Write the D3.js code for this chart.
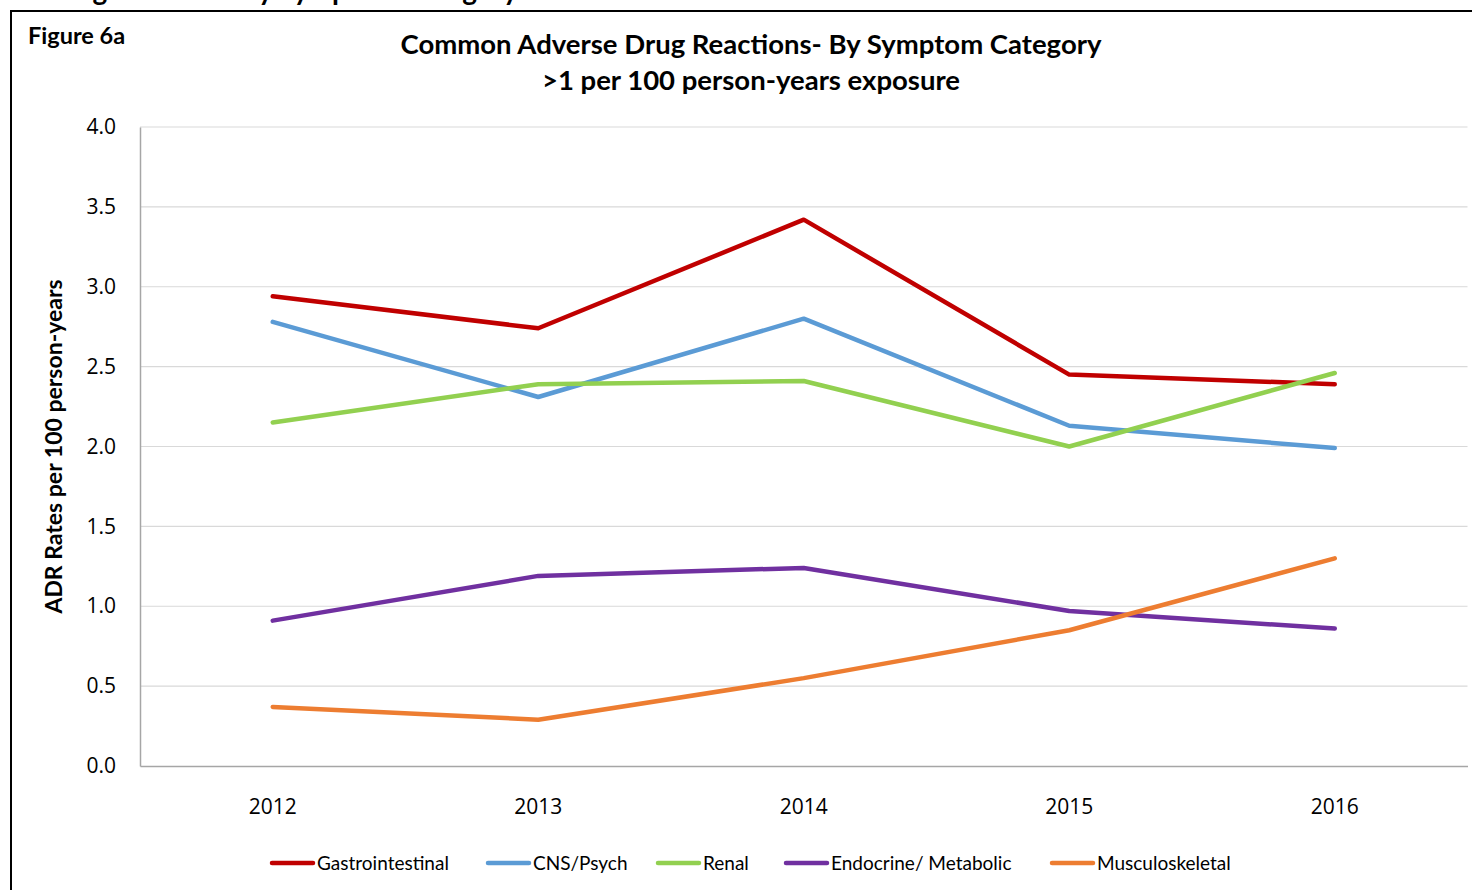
<!DOCTYPE html>
<html>
<head>
<meta charset="utf-8">
<script src="https://cdn.jsdelivr.net/npm/d3@7"></script>
<style>
  html, body { margin: 0; padding: 0; background: #fff; }
  svg { display: block; }
</style>
</head>
<body>
<svg id="chart" width="1472" height="890"></svg>
<script>
// ---- data ----
const years = ["2012", "2013", "2014", "2015", "2016"];
const seriesNames = ["Gastrointestinal", "CNS/Psych", "Renal", "Endocrine/ Metabolic", "Musculoskeletal"];
const gastrointestinal = [2.94, 2.74, 3.42, 2.45, 2.39];
const cnsPsych = [2.78, 2.31, 2.80, 2.13, 1.99];
const renal = [2.15, 2.39, 2.41, 2.00, 2.46];
const endocrine = [0.91, 1.19, 1.24, 0.97, 0.86];
const musculoskeletal = [0.37, 0.29, 0.55, 0.85, 1.30];
const yTicks = [0, 0.5, 1.0, 1.5, 2.0, 2.5, 3.0, 3.5, 4.0];
const colors = ["#C00000", "#5B9BD5", "#92D050", "#7030A0", "#ED7D31"];

const seriesValues = [gastrointestinal, cnsPsych, renal, endocrine, musculoskeletal];
const series = seriesNames.map((n, i) => ({ name: n, values: seriesValues[i], color: colors[i] }));

const svg = d3.select("#chart");
const plot = { left: 140, right: 1467.5, top: 127, bottom: 766 };

const x = d3.scaleBand().domain(years).range([plot.left, plot.right]);
const y = d3.scaleLinear().domain([0, 4]).range([plot.bottom, plot.top]);

const boldFont = "Lato, 'Open Sans', sans-serif";

// header text above the frame (cut off at the top edge, as in the source)
svg.append("text")
  .attr("x", 518).attr("y", 0)
  .attr("text-anchor", "end")
  .attr("font-family", boldFont).attr("font-weight", "bold").attr("font-size", 28)
  .attr("fill", "#000")
  .text("Figure 6a: Common Adverse Drug Reactions by Symptom Category");

// frame
svg.append("rect")
  .attr("x", 11).attr("y", 11).attr("width", 1500).attr("height", 900)
  .attr("fill", "none").attr("stroke", "#000").attr("stroke-width", 2);

// Figure label
svg.append("text")
  .attr("x", 28).attr("y", 44)
  .attr("font-family", boldFont).attr("font-weight", "bold").attr("font-size", 23.5)
  .attr("fill", "#000").text("Figure 6a");

// Title
const title = svg.append("text")
  .attr("text-anchor", "middle")
  .attr("font-family", boldFont).attr("font-weight", "bold").attr("font-size", 27.5)
  .attr("fill", "#000");
title.append("tspan").attr("x", 751).attr("y", 54).text("Common Adverse Drug Reactions- By Symptom Category");
title.append("tspan").attr("x", 751).attr("y", 90).text(">1 per 100 person-years exposure");

// gridlines
svg.append("g")
  .selectAll("line")
  .data(yTicks.filter(d => d > 0))
  .join("line")
  .attr("x1", plot.left).attr("x2", plot.right)
  .attr("y1", d => y(d)).attr("y2", d => y(d))
  .attr("stroke", "#D9D9D9").attr("stroke-width", 1.2);

// y axis
const yAxis = svg.append("g")
  .attr("transform", `translate(${plot.left},0)`)
  .call(d3.axisLeft(y).tickValues(yTicks).tickFormat(d3.format(".1f")).tickSize(0).tickPadding(24));
yAxis.select(".domain").attr("stroke", "#A6A6A6").attr("stroke-width", 1.5);
yAxis.selectAll("text")
  .attr("font-family", "'Open Sans', sans-serif").attr("font-size", 21).attr("fill", "#000");

// x axis
const xAxis = svg.append("g")
  .attr("transform", `translate(0,${plot.bottom})`)
  .call(d3.axisBottom(x).tickSize(0).tickPadding(33));
xAxis.select(".domain").attr("stroke", "#A6A6A6").attr("stroke-width", 1.5);
xAxis.selectAll("text")
  .attr("font-family", "'Open Sans', sans-serif").attr("font-size", 21).attr("fill", "#000");

// y axis title
svg.append("text")
  .attr("transform", `translate(62,${(plot.top + plot.bottom) / 2}) rotate(-90)`)
  .attr("text-anchor", "middle")
  .attr("font-family", boldFont).attr("font-weight", "bold").attr("font-size", 23)
  .attr("fill", "#000").text("ADR Rates per 100 person-years");

// lines
const line = d3.line()
  .x((d, i) => x(years[i]) + x.bandwidth() / 2)
  .y(d => y(d));

svg.append("g")
  .selectAll("path")
  .data(series)
  .join("path")
  .attr("d", d => line(d.values))
  .attr("fill", "none")
  .attr("stroke", d => d.color)
  .attr("stroke-width", 4.5)
  .attr("stroke-linejoin", "round")
  .attr("stroke-linecap", "round");

// legend
const legendX = [272, 488, 658, 786, 1052];
const legend = svg.append("g");
series.forEach((s, i) => {
  const g = legend.append("g").attr("transform", `translate(${legendX[i]},863)`);
  g.append("line").attr("x1", 0).attr("x2", 41).attr("y1", 0).attr("y2", 0)
    .attr("stroke", s.color).attr("stroke-width", 4.5).attr("stroke-linecap", "round");
  g.append("text").attr("x", 45).attr("y", 7)
    .attr("font-family", "Lato, sans-serif").attr("font-size", 19).attr("fill", "#000")
    .text(s.name);
});
</script>
</body>
</html>
